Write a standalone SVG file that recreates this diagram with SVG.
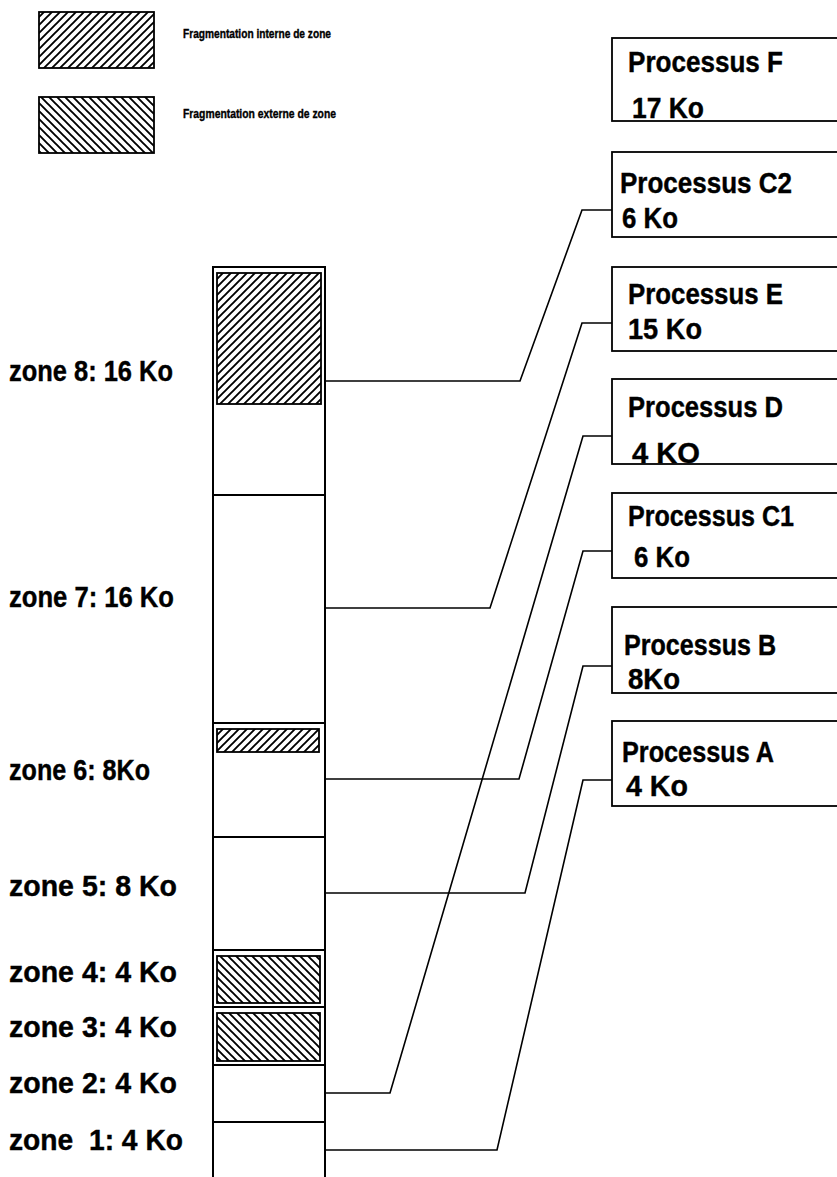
<svg xmlns="http://www.w3.org/2000/svg" width="837" height="1177" viewBox="0 0 837 1177">
<style>
.bg{fill:#fff}
.box{fill:#fff;stroke:#000;stroke-width:1.8}
.col{fill:none;stroke:#000;stroke-width:2}
.hf{fill:url(#fwd);stroke:#000;stroke-width:1.8}
.hb{fill:url(#back);stroke:#000;stroke-width:1.8}
.conn{fill:none;stroke:#000;stroke-width:1.6;stroke-linejoin:miter}
.lbl{font-family:"Liberation Sans",Arial,sans-serif;font-weight:bold;font-size:29px;fill:#000;stroke:#000;stroke-width:0.4}
.leg{font-family:"Liberation Sans",Arial,sans-serif;font-weight:bold;font-size:12px;fill:#000;stroke:#000;stroke-width:0.35}
</style>
<defs>
<pattern id="fwd" patternUnits="userSpaceOnUse" width="8" height="8">
<rect width="8" height="8" fill="#fff"/>
<path d="M-2,2 L2,-2 M0,8 L8,0 M6,10 L10,6" stroke="#000" stroke-width="1.9"/>
</pattern>
<pattern id="back" patternUnits="userSpaceOnUse" width="8" height="8">
<rect width="8" height="8" fill="#fff"/>
<path d="M-2,6 L2,10 M0,0 L8,8 M6,-2 L10,2" stroke="#000" stroke-width="1.9"/>
</pattern>
</defs>
<rect class="bg" x="0" y="0" width="837" height="1177"/>

<g id="legend">
<rect class="hf" x="39" y="12" width="115" height="56"/>
<text class="leg" x="183" y="38" textLength="148" lengthAdjust="spacingAndGlyphs">Fragmentation interne de zone</text>
<rect class="hb" x="39" y="97" width="115" height="56"/>
<text class="leg" x="183" y="118" textLength="153" lengthAdjust="spacingAndGlyphs">Fragmentation externe de zone</text>
</g>

<g id="memory-column">
<path class="col" d="M213,1180 V267 H325 V1180"/>
<path class="col" d="M213,495 H325 M213,723 H325 M213,837 H325 M213,950 H325 M213,1007 H325 M213,1065 H325 M213,1122 H325"/>
</g>

<g id="zone8">
<rect class="hf" x="217" y="273" width="104" height="131"/>
<text class="lbl" x="9" y="381" textLength="164" lengthAdjust="spacingAndGlyphs">zone 8: 16 Ko</text>
</g>
<g id="zone7">
<text class="lbl" x="9" y="607" textLength="165" lengthAdjust="spacingAndGlyphs">zone 7: 16 Ko</text>
</g>
<g id="zone6">
<rect class="hf" x="217" y="729" width="102" height="23"/>
<text class="lbl" x="9" y="780" textLength="141" lengthAdjust="spacingAndGlyphs">zone 6: 8Ko</text>
</g>
<g id="zone5">
<text class="lbl" x="9" y="896" textLength="168" lengthAdjust="spacingAndGlyphs">zone 5: 8 Ko</text>
</g>
<g id="zone4">
<rect class="hb" x="217" y="956" width="103" height="47"/>
<text class="lbl" x="9" y="982" textLength="168" lengthAdjust="spacingAndGlyphs">zone 4: 4 Ko</text>
</g>
<g id="zone3">
<rect class="hb" x="217" y="1013" width="103" height="48"/>
<text class="lbl" x="9" y="1037" textLength="168" lengthAdjust="spacingAndGlyphs">zone 3: 4 Ko</text>
</g>
<g id="zone2">
<text class="lbl" x="9" y="1093" textLength="168" lengthAdjust="spacingAndGlyphs">zone 2: 4 Ko</text>
</g>
<g id="zone1">
<text class="lbl" x="9" y="1150" textLength="174" lengthAdjust="spacingAndGlyphs" xml:space="preserve">zone  1: 4 Ko</text>
</g>

<g id="processF">
<rect class="box" x="612" y="38" width="240" height="83"/>
<text class="lbl" x="628" y="72" textLength="155" lengthAdjust="spacingAndGlyphs">Processus F</text>
<text class="lbl" x="632" y="118" textLength="72" lengthAdjust="spacingAndGlyphs">17 Ko</text>
</g>
<g id="processC2">
<rect class="box" x="612" y="152" width="240" height="85"/>
<text class="lbl" x="620" y="193" textLength="172" lengthAdjust="spacingAndGlyphs">Processus C2</text>
<text class="lbl" x="622" y="228" textLength="56" lengthAdjust="spacingAndGlyphs">6 Ko</text>
</g>
<g id="processE">
<rect class="box" x="612" y="267" width="240" height="84"/>
<text class="lbl" x="628" y="304" textLength="155" lengthAdjust="spacingAndGlyphs">Processus E</text>
<text class="lbl" x="628" y="339" textLength="74" lengthAdjust="spacingAndGlyphs">15 Ko</text>
</g>
<g id="processD">
<rect class="box" x="612" y="379" width="240" height="85"/>
<text class="lbl" x="628" y="417" textLength="155" lengthAdjust="spacingAndGlyphs">Processus D</text>
<text class="lbl" x="632" y="463" textLength="68" lengthAdjust="spacingAndGlyphs">4 KO</text>
</g>
<g id="processC1">
<rect class="box" x="612" y="493" width="240" height="85"/>
<text class="lbl" x="628" y="526" textLength="166" lengthAdjust="spacingAndGlyphs">Processus C1</text>
<text class="lbl" x="634" y="567" textLength="56" lengthAdjust="spacingAndGlyphs">6 Ko</text>
</g>
<g id="processB">
<rect class="box" x="612" y="607" width="240" height="86"/>
<text class="lbl" x="624" y="655" textLength="152" lengthAdjust="spacingAndGlyphs">Processus B</text>
<text class="lbl" x="628" y="689" textLength="52" lengthAdjust="spacingAndGlyphs">8Ko</text>
</g>
<g id="processA">
<rect class="box" x="612" y="721" width="240" height="85"/>
<text class="lbl" x="622" y="762" textLength="152" lengthAdjust="spacingAndGlyphs">Processus A</text>
<text class="lbl" x="626" y="796" textLength="62" lengthAdjust="spacingAndGlyphs">4 Ko</text>
</g>

<g id="connectors">
<path class="conn" d="M325,381 H520 L582,210 H612"/>
<path class="conn" d="M325,608 H490 L582,323 H612"/>
<path class="conn" d="M325,1093 H390 L583,436 H612"/>
<path class="conn" d="M325,779 H519 L583,551 H612"/>
<path class="conn" d="M325,893 H525 L583,666 H612"/>
<path class="conn" d="M325,1150 H497 L583,780 H612"/>
</g>
</svg>
